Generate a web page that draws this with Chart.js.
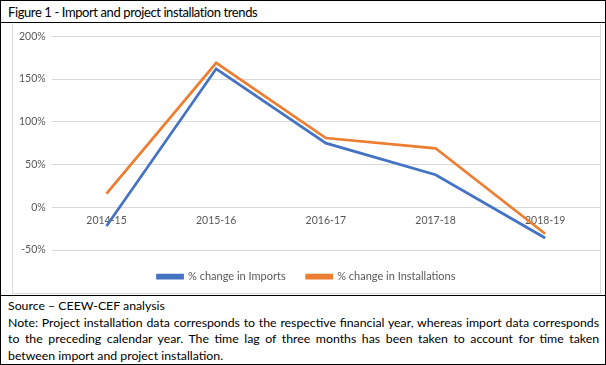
<!DOCTYPE html>
<html>
<head>
<meta charset="utf-8">
<script src="https://cdn.jsdelivr.net/npm/chart.js@4"></script>
<style>
  body { margin: 0; background: #fff; }
  .frame { position: absolute; left: 0; top: 0; width: 604px; height: 363px; border: 1px solid #000; font-family: Lato, "Liberation Sans", sans-serif; color: #000; }
  .title { position: absolute; left: 7px; top: 3px; font-size: 13px; letter-spacing: -0.4px; }
  .rule { position: absolute; left: 0; width: 604px; height: 1px; background: #000; }
  .chartBox { position: absolute; left: 11px; top: 23px; width: 587px; height: 269px; border: 1px solid #d9d9d9; border-top: none; }
  .notes { position: absolute; left: 7px; top: 297px; width: 591px; font-size: 12.3px; line-height: 16.7px; }
  .notes div.j { text-align: justify; text-align-last: justify; }
</style>
</head>
<body>
<div class="frame">
  <div class="title">Figure 1 - Import and project installation trends</div>
  <div class="rule" style="top:21px"></div>
  <div class="chartBox"><canvas id="myChart" width="587" height="269"></canvas></div>
  <div class="rule" style="top:294px"></div>
  <div class="notes">
    <div>Source – CEEW-CEF analysis</div>
    <div class="j">Note: Project installation data corresponds to the respective financial year, whereas import data corresponds</div>
    <div class="j">to the preceding calendar year. The time lag of three months has been taken to account for time taken</div>
    <div>between import and project installation.</div>
  </div>
</div>
<script>
const years = ["2014-15", "2015-16", "2016-17", "2017-18", "2018-19"];
const importsChange = [-22, 162, 75, 38, -36];
const installsChange = [16, 169, 81, 69, -31];
const yTicks = [-50, 0, 50, 100, 150, 200];

const ctx = document.getElementById("myChart").getContext("2d");
new Chart(ctx, {
    type: "line",
    data: {
        labels: years,
        datasets: [
            {
                label: "% change in Imports",
                data: importsChange,
                borderColor: "#4472C4",
                backgroundColor: "#4472C4",
                borderWidth: 2.75,
                pointRadius: 0,
                tension: 0
            },
            {
                label: "% change in Installations",
                data: installsChange,
                borderColor: "#ED7D31",
                backgroundColor: "#ED7D31",
                borderWidth: 2.75,
                pointRadius: 0,
                tension: 0
            }
        ]
    },
    options: {
        responsive: false,
        animation: false,
        layout: { padding: { top: 2, right: 0, bottom: 1, left: 0 } },
        plugins: {
            tooltip: { enabled: false },
            legend: {
                position: "bottom",
                labels: {
                    boxWidth: 25,
                    boxHeight: 3,
                    padding: 21,
                    color: "#595959",
                    font: { family: "Lato", size: 11 }
                }
            }
        },
        scales: {
            x: {
                position: { y: 0 },
                offset: true,
                grid: { display: false, drawTicks: false, offset: true },
                border: { display: false },
                ticks: { color: "#595959", font: { family: "Lato", size: 10.5 }, padding: 7 },
                afterFit: (axis) => { axis.height = 0; }
            },
            y: {
                min: yTicks[0],
                max: yTicks[yTicks.length - 1],
                afterBuildTicks: (axis) => { axis.ticks = yTicks.map(v => ({ value: v })); },
                grid: { color: "#d9d9d9", drawTicks: false },
                border: { display: false },
                ticks: {
                    color: "#595959",
                    font: { family: "Lato", size: 10.5 },
                    padding: 6,
                    callback: (v) => v + "%"
                }
            }
        }
    }
});
</script>
</body>
</html>
